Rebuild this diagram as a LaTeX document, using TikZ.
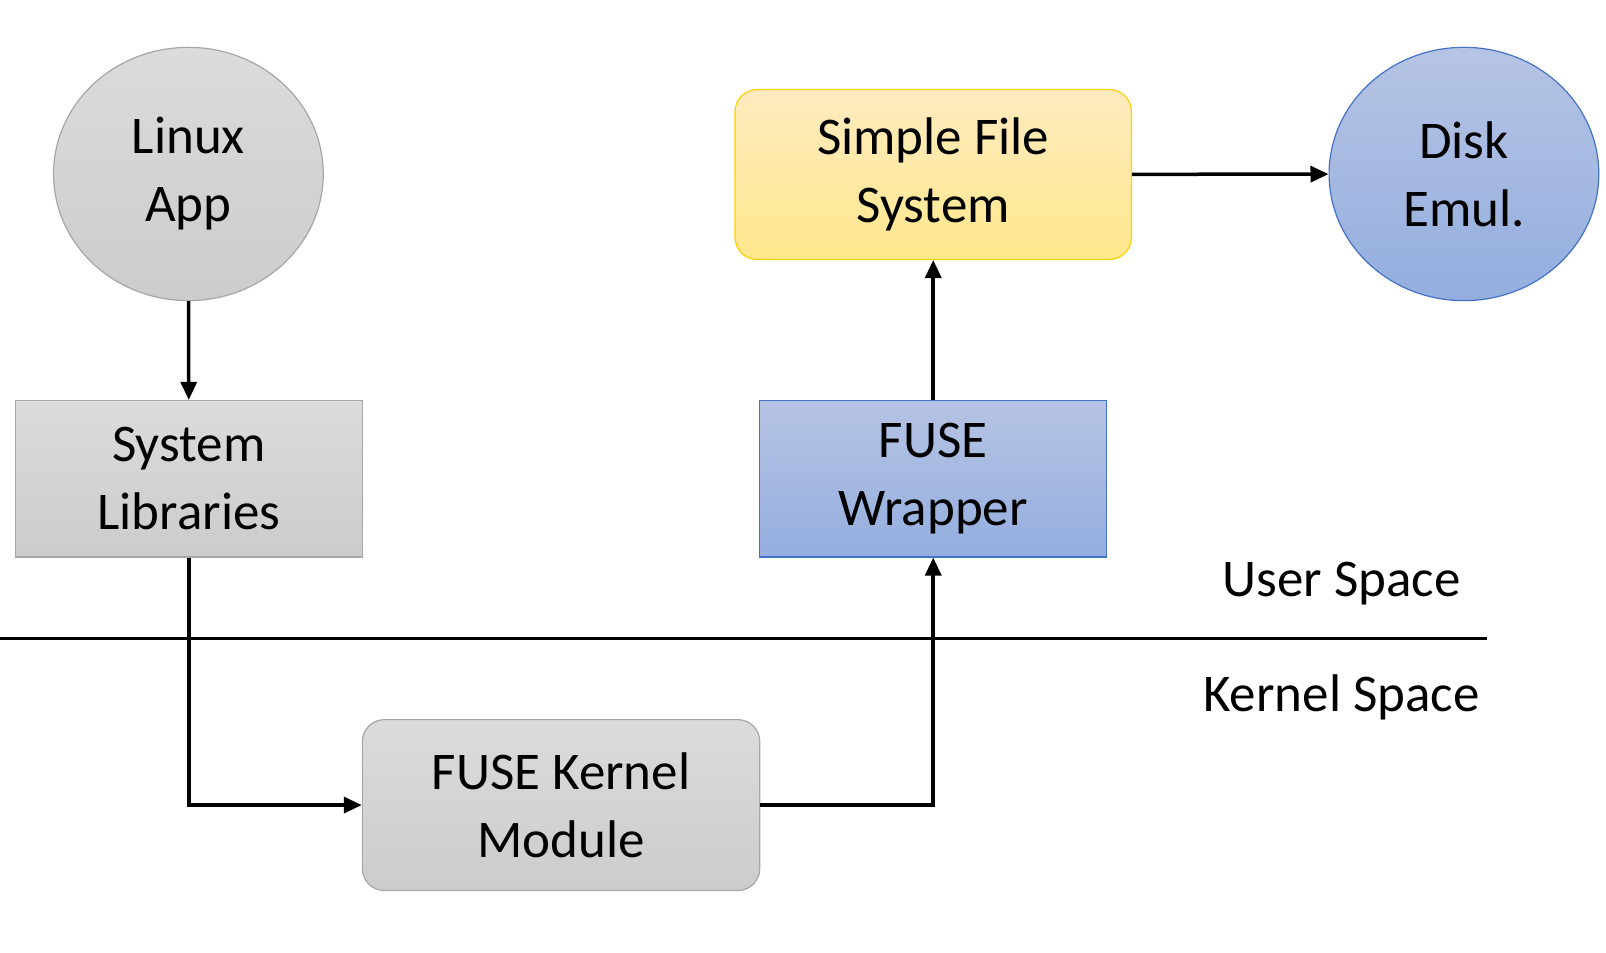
\documentclass[tikz,border=0pt]{standalone}
\usepackage{fontspec}
\setmainfont{Carlito}
\usetikzlibrary{shapes.geometric,arrows.meta}
\tikzset{
 lab/.style={font=\fontsize{53}{68}\selectfont,align=center,inner sep=0pt},
 grayf/.style={top color=gray!28,bottom color=gray!40,draw=gray!70,line width=1.2pt},
 yelf/.style={top color=yellow!35!orange!25,bottom color=yellow!60!orange!45,draw=yellow!70!orange,line width=1.2pt},
 bluef/.style={top color={rgb,255:red,182;green,196;blue,228},bottom color={rgb,255:red,148;green,174;blue,223},draw={rgb,255:red,68;green,114;blue,196},line width=1.2pt},
 conn/.style={line width=3.5pt,-{Triangle[length=18pt,width=16pt]}},
}
\begin{document}
\begin{tikzpicture}[x=1.0295pt,y=-1.0295pt]
\useasboundingbox (0,0) rectangle (1560,925);
\node[ellipse,grayf,lab,minimum width=269.7pt,minimum height=253.3pt] (app) at (183,169) {Linux\\App};
\node[rectangle,grayf,lab,minimum width=347pt,minimum height=156.5pt] (lib) at (183.5,465) {System\\Libraries};
\node[rectangle,rounded corners=22pt,grayf,lab,minimum width=397.4pt,minimum height=170.9pt] (kern) at (545,782) {FUSE Kernel\\Module};
\node[rectangle,rounded corners=22pt,yelf,lab,minimum width=396.4pt,minimum height=169.9pt] (sfs) at (906.5,169.5) {Simple File\\System};
\node[ellipse,bluef,lab,minimum width=269.7pt,minimum height=253.3pt] (disk) at (1422,169) {Disk\\Emul.};
\node[rectangle,bluef,lab,minimum width=347pt,minimum height=156.5pt] (wrap) at (906.5,465) {FUSE\\Wrapper};
\coordinate (l1) at (0,620);
\coordinate (l2) at (1444,620);
\draw[line width=3.5pt] (l1) -- (l2);
\node[lab] (us) at (1303,567) {User Space};
\node[lab] (ks) at (1303,677) {Kernel Space};
\draw[conn] (app) -- (lib);
\draw[conn] (lib.south) |- (kern.west);
\draw[conn] (kern.east) -| (wrap.south);
\draw[conn] (wrap) -- (sfs);
\draw[conn] (sfs) -- (disk);
\end{tikzpicture}
\end{document}
